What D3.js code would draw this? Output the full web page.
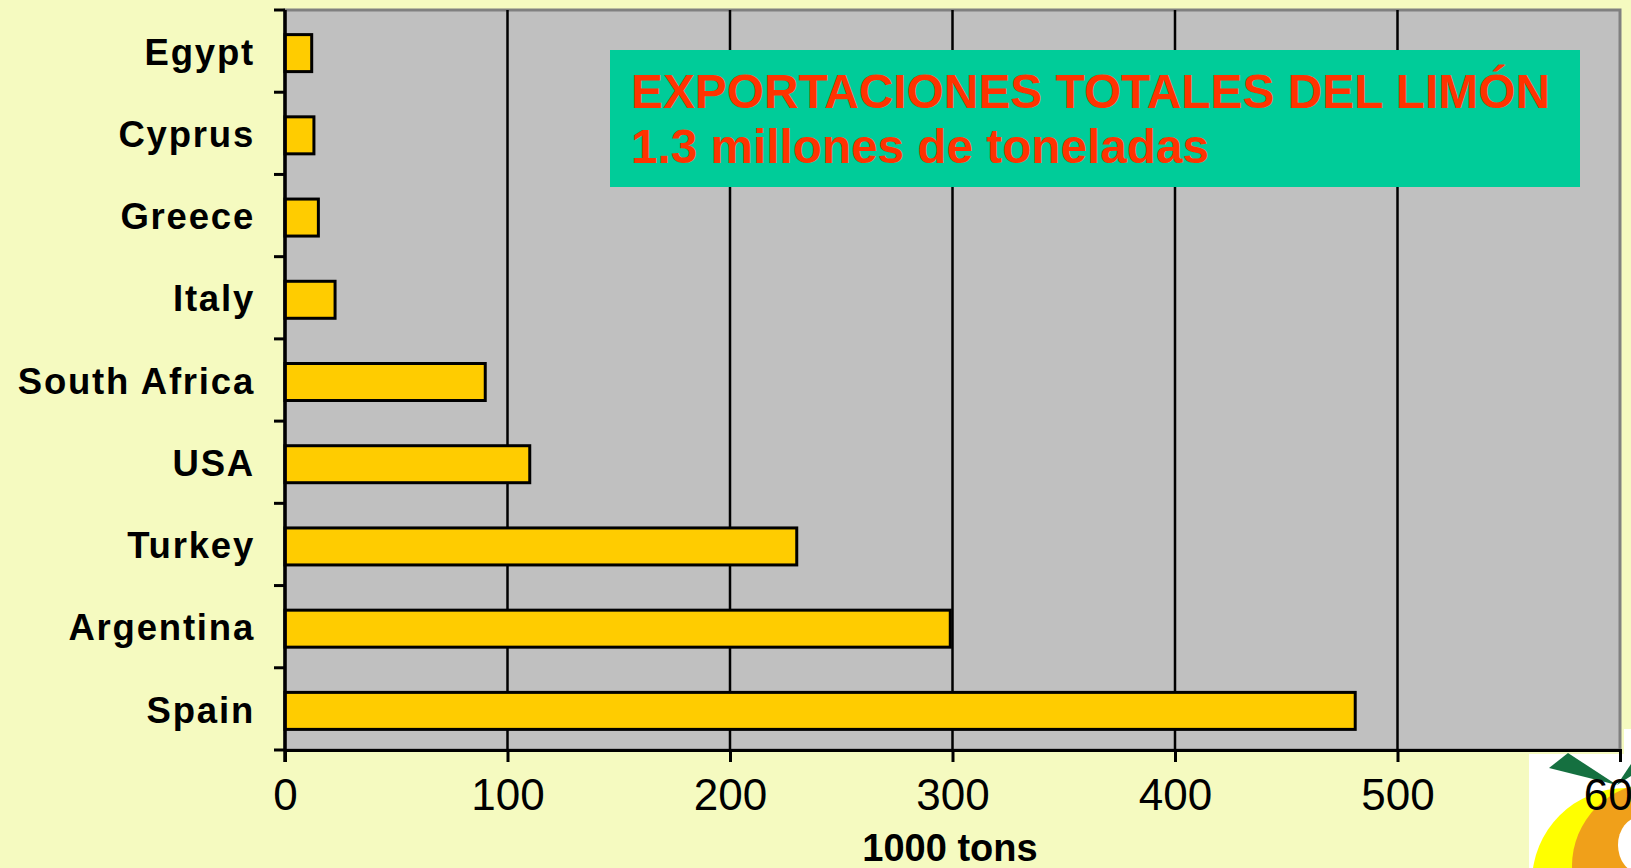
<!DOCTYPE html>
<html>
<head>
<meta charset="utf-8">
<script src="https://cdn.jsdelivr.net/npm/d3@7"></script>
<style>
  html, body { margin: 0; padding: 0; background: #F5FAC0; overflow: hidden; }
  svg { display: block; font-family: "Liberation Sans", Arial, sans-serif; }
</style>
</head>
<body>
<div id="chart"></div>
<script>
// data (1000 tons)
var countries = ["Egypt", "Cyprus", "Greece", "Italy", "South Africa", "USA", "Turkey", "Argentina", "Spain"];
var exports = [12, 13, 15, 22.5, 90, 110, 230, 299, 481];
var xTicks = [0, 100, 200, 300, 400, 500, 600];
var titleLines = ["EXPORTACIONES TOTALES DEL LIMÓN", "1.3 millones de toneladas"];
var xTitle = "1000 tons";

var width = 1631,
    height = 868,
    margin = { left: 285, right: 11, top: 10, bottom: 118 };

function translate(x, y){
    return "translate(" + x + "," + y + ")";
}

var data = countries.map(function(c, i){ return { name: c, value: exports[i] }; });

var svg = d3.select("#chart").append("svg")
    .attr("width", width)
    .attr("height", height);

svg.append("rect")
    .attr("width", width).attr("height", height)
    .attr("fill", "#F5FAC0");

var xScale = d3.scaleLinear()
    .domain([0, 600])
    .range([margin.left, width - margin.right]);

var yScale = d3.scaleBand()
    .domain(countries)
    .range([margin.top, height - margin.bottom])
    .paddingInner(0.55)
    .paddingOuter(0.275);

var yEdge = d3.scaleLinear()
    .domain([0, countries.length])
    .range([margin.top, height - margin.bottom]);

var plotTop = margin.top, plotBottom = height - margin.bottom;

// logo in the lower right corner (drawn first so the last tick label sits on it)
var logo = svg.append("g").attr("class", "logo");
logo.append("rect")
    .attr("x", 1529).attr("y", 754).attr("width", 102).attr("height", 114)
    .attr("fill", "#ffffff");
logo.append("rect")
    .attr("x", 1624).attr("y", 729).attr("width", 7).attr("height", 30)
    .attr("fill", "#ffffff");
logo.append("circle")
    .attr("cx", 1626).attr("cy", 882).attr("r", 94)
    .attr("fill", "#FFFF00");
logo.append("circle")
    .attr("cx", 1655).attr("cy", 866).attr("r", 83)
    .attr("fill", "#F0A01A");
logo.append("ellipse")
    .attr("cx", 1640).attr("cy", 845).attr("rx", 22).attr("ry", 28)
    .attr("fill", "#ffffff");
logo.append("path")
    .attr("d", "M1549,768 L1568,753 L1617,785 Z")
    .attr("fill", "#157040");
logo.append("path")
    .attr("d", "M1617,785 L1631,764 L1631,776 Z")
    .attr("fill", "#157040");

// plot area
svg.append("rect")
    .attr("x", margin.left).attr("y", plotTop)
    .attr("width", xScale(600) - margin.left)
    .attr("height", plotBottom - plotTop)
    .attr("fill", "#C0C0C0")
    .attr("stroke", "#808080")
    .attr("stroke-width", 3);

// gridlines
svg.append("g")
    .attr("class", "grid")
    .selectAll("line")
    .data(xTicks.filter(function(d){ return d > 0 && d < 600; }))
    .enter()
    .append("line")
    .attr("x1", function(d){ return xScale(d); })
    .attr("x2", function(d){ return xScale(d); })
    .attr("y1", plotTop)
    .attr("y2", plotBottom)
    .attr("stroke", "#000")
    .attr("stroke-width", 2.5);

// title box
svg.append("rect")
    .attr("x", 610).attr("y", 50)
    .attr("width", 970).attr("height", 137)
    .attr("fill", "#00CC99");

svg.selectAll(".title")
    .data(titleLines)
    .enter()
    .append("text")
    .attr("class", "title")
    .attr("x", 631)
    .attr("y", function(d, i){ return 108 + i * 55; })
    .attr("textLength", function(d, i){ return i === 0 ? 919 : 578; })
    .attr("lengthAdjust", "spacingAndGlyphs")
    .attr("font-size", 48)
    .attr("font-weight", "bold")
    .attr("fill", "#FF3300")
    .text(function(d){ return d; });

// bars
svg.selectAll(".bar")
    .data(data)
    .enter()
    .append("rect")
    .attr("class", "bar")
    .attr("x", xScale(0))
    .attr("y", function(d){ return yScale(d.name) + 2; })
    .attr("width", function(d){ return xScale(d.value) - xScale(0); })
    .attr("height", yScale.bandwidth())
    .attr("fill", "#FFCC00")
    .attr("stroke", "#000")
    .attr("stroke-width", 3);

// x axis
var xAxis = d3.axisBottom(xScale)
    .tickValues(xTicks)
    .tickSize(12)
    .tickPadding(17)
    .tickFormat(d3.format("d"));

var gx = svg.append("g")
    .attr("class", "x-axis")
    .attr("transform", translate(0, plotBottom))
    .call(xAxis);
gx.select(".domain").attr("stroke", "#000").attr("stroke-width", 3);
gx.selectAll(".tick line").attr("stroke", "#000").attr("stroke-width", 3);
gx.selectAll(".tick text")
    .attr("font-size", 44)
    .attr("fill", "#000")
    .attr("font-family", "Liberation Sans, Arial, sans-serif");

svg.append("text")
    .attr("x", 950)
    .attr("y", 861)
    .attr("text-anchor", "middle")
    .attr("font-size", 38)
    .attr("font-weight", "bold")
    .text(xTitle);

// y axis
var yAxis = d3.axisLeft(yScale)
    .tickSize(0)
    .tickPadding(30);

var gy = svg.append("g")
    .attr("class", "y-axis")
    .attr("transform", translate(margin.left, 2))
    .call(yAxis);
gy.select(".domain").remove();
gy.selectAll(".tick text")
    .attr("font-size", 36.5)
    .attr("font-weight", "bold")
    .attr("letter-spacing", "1.8px")
    .attr("fill", "#000")
    .attr("font-family", "Liberation Sans, Arial, sans-serif");

svg.append("g")
    .attr("class", "y-ticks")
    .selectAll("line")
    .data(d3.range(countries.length + 1))
    .enter()
    .append("line")
    .attr("x1", margin.left - 11)
    .attr("x2", margin.left)
    .attr("y1", function(d){ return yEdge(d); })
    .attr("y2", function(d){ return yEdge(d); })
    .attr("stroke", "#000")
    .attr("stroke-width", 3);

svg.append("line")
    .attr("x1", margin.left).attr("x2", margin.left)
    .attr("y1", plotTop).attr("y2", plotBottom + 12)
    .attr("stroke", "#000")
    .attr("stroke-width", 3.5);
</script>
</body>
</html>
